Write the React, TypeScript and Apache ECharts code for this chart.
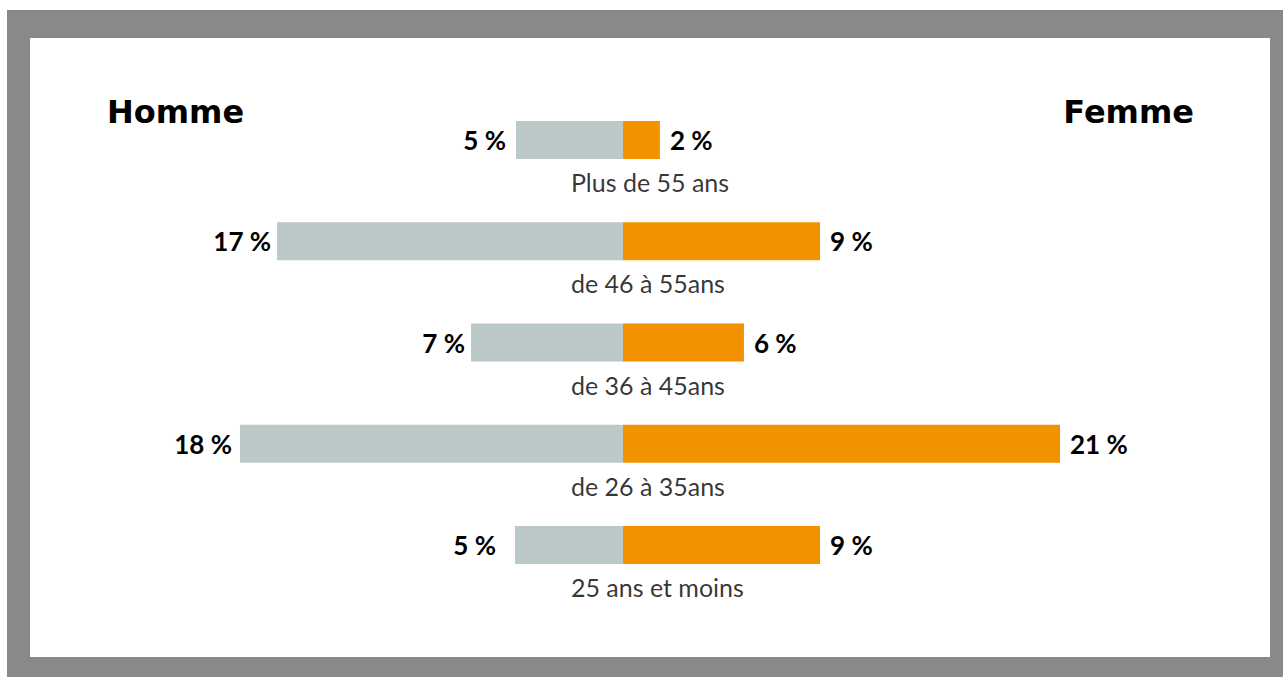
import React, { useEffect, useRef } from "react";
import * as echarts from "echarts";

const categories = ["Plus de 55 ans", "de 46 à 55ans", "de 36 à 45ans", "de 26 à 35ans", "25 ans et moins"];
const hommeValues = [5.13, 16.59, 7.29, 18.37, 5.18];
const femmeValues = [1.77, 9.45, 5.8, 20.96, 9.45];
const sideTitles = ["Homme", "Femme"];
const categoryLabelX = -2.5;

const hommeLabelGap = [10, 6, 6, 8, 19];
const FONT = "Lato, 'Open Sans', sans-serif";
const TITLE_FONT = "'DejaVu Sans', Lato, sans-serif";
const GREY = "#BAC8C8";
const ORANGE = "#F29200";

export default function App() {
  const ref = useRef<HTMLDivElement>(null);
  useEffect(() => {
    if (!ref.current) return;
    const chart = echarts.init(ref.current, undefined, { renderer: "svg" });
    chart.setOption({
      animation: false,
      textStyle: { fontFamily: FONT },
      grid: { left: 101.75, width: 1042.5, top: 89.4, height: 506.25, containLabel: false },
      xAxis: { type: "value", min: -25, max: 25, show: false },
      yAxis: { type: "category", data: categories, inverse: true, show: false },
      graphic: [
        {
          type: "text",
          x: 107,
          y: 112,
          style: { text: sideTitles[0], fontSize: 32, fontWeight: "bold", fontFamily: TITLE_FONT, fill: "#000", align: "left", verticalAlign: "middle" },
        },
        {
          type: "text",
          x: 1194,
          y: 112,
          style: { text: sideTitles[1], fontSize: 32, fontWeight: "bold", fontFamily: TITLE_FONT, fill: "#000", align: "right", verticalAlign: "middle" },
        },
      ],
      series: [
        {
          type: "bar",
          name: sideTitles[0],
          barWidth: 38,
          barGap: "-100%",
          itemStyle: { color: GREY },
          data: hommeValues.map((v, i) => ({
            value: -v,
            label: { distance: hommeLabelGap[i] },
          })),
          label: {
            show: true,
            position: "left",
            formatter: (p: any) => Math.round(-p.value) + " %",
            fontSize: 26,
            fontWeight: "bold",
            color: "#000",
            fontFamily: FONT,
          },
        },
        {
          type: "bar",
          name: sideTitles[1],
          barWidth: 38,
          barGap: "-100%",
          itemStyle: { color: ORANGE },
          data: femmeValues,
          label: {
            show: true,
            position: "right",
            distance: 10,
            formatter: (p: any) => Math.round(p.value) + " %",
            fontSize: 26,
            fontWeight: "bold",
            color: "#000",
            fontFamily: FONT,
          },
        },
        {
          type: "scatter",
          symbolSize: 0,
          silent: true,
          data: categories.map((c, i) => ({ name: c, value: [categoryLabelX, i] })),
          label: {
            show: true,
            position: "right",
            distance: 0,
            offset: [0, 42],
            formatter: (p: any) => p.name,
            fontSize: 25,
            color: "#000",
            fontFamily: FONT,
          },
        },
      ],
    });
    return () => chart.dispose();
  }, []);

  return (
    <div style={{ position: "fixed", left: 0, top: 0, width: 1283, height: 677, background: "#fff", overflow: "hidden" }}>
      <div style={{ position: "absolute", left: 7, top: 10, width: 1276, height: 667, background: "#898989" }} />
      <div style={{ position: "absolute", left: 30, top: 38, width: 1240, height: 619, background: "#fff" }} />
      <div ref={ref} style={{ position: "absolute", left: 0, top: 0, width: 1283, height: 677 }} />
    </div>
  );
}
